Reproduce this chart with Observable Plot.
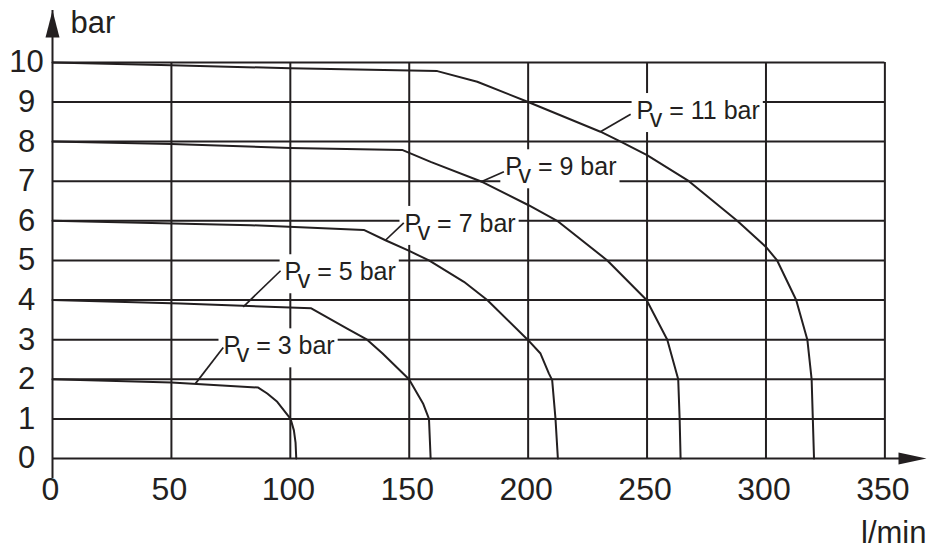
<!DOCTYPE html>
<html><head><meta charset="utf-8">
<script src="https://cdn.jsdelivr.net/npm/d3@7"></script>
<script src="https://cdn.jsdelivr.net/npm/@observablehq/plot@0.6"></script>
<style>html,body{margin:0;padding:0;background:#fff;overflow:hidden}</style>
</head><body><div id="chart"></div>
<script>
// ---- data ----
const xTicks = [0, 50, 100, 150, 200, 250, 300, 350];
const yTicks = [0, 1, 2, 3, 4, 5, 6, 7, 8, 9, 10];
const xAxisEnd = 367.5;   // arrow tip of the flow axis
const yAxisEnd = 11.31;   // arrow tip of the pressure axis
const xUnit = "l/min";
const yUnit = "bar";

const seriesNames = ["3", "5", "7", "9", "11"];
const flow3  = [0, 50, 86.5, 90.3, 94.5, 100.1, 101.5, 102.2, 102.5];
const pres3  = [2, 1.92, 1.79, 1.64, 1.43, 1.0, 0.71, 0.4, 0];
const flow5  = [0, 53.8, 108.8, 123.9, 132.3, 138.8, 149.9, 155.8, 158.3, 159];
const pres5  = [4, 3.91, 3.79, 3.28, 3.0, 2.65, 2.0, 1.39, 1.0, 0];
const flow7  = [0, 83.3, 130.9, 140, 150, 158.3, 173, 182.8, 199.8, 205.2, 208.7, 210.1, 211.5, 212.5];
const pres7  = [6, 5.89, 5.77, 5.51, 5.24, 5.0, 4.46, 4.0, 3.0, 2.65, 2.15, 1.98, 1.0, 0];
const flow9  = [0, 50, 100, 147, 159, 180, 200, 212.2, 233.3, 249.8, 258.5, 263.1, 263.7, 264.1];
const pres9  = [8, 7.94, 7.84, 7.79, 7.49, 7.0, 6.4, 6.0, 5.0, 4.0, 3.0, 2.0, 1.0, 0];
const flow11 = [0, 50, 100, 161.8, 178.6, 200, 230.4, 238.9, 250, 267.6, 287.9, 300, 304.7, 312.7, 317.4, 319.2, 319.7, 320.2];
const pres11 = [10, 9.93, 9.85, 9.78, 9.51, 9.0, 8.25, 8.0, 7.66, 7.0, 6.0, 5.34, 5.0, 4.0, 3.0, 2.0, 1.0, 0];

// label anchors (start of "P", baseline) and leader lines
const labelX   = [71.9, 97.6, 148.0, 190.4, 245.6];
const labelY   = [2.63, 4.50, 5.72, 7.15, 8.57];
const leaderX1 = [71.8, 95.9, 147.7, 189.8, 243.1];
const leaderY1 = [2.80, 4.74, 5.95, 7.24, 8.69];
const leaderX2 = [60.1, 80.2, 140.0, 180.0, 230.4];
const leaderY2 = [1.89, 3.83, 5.51, 6.98, 8.25];

// ---- build tables ----
const flows = [flow3, flow5, flow7, flow9, flow11];
const pres = [pres3, pres5, pres7, pres9, pres11];
const rows = [];
seriesNames.forEach((s, i) => flows[i].forEach((q, j) => rows.push({series: s, q, p: pres[i][j]})));
const labels = seriesNames.map((s, i) => ({name: s, x: labelX[i], y: labelY[i],
  x1: leaderX1[i], y1: leaderY1[i], x2: leaderX2[i], y2: leaderY2[i]}));

const ink = "#231f20";
const font = "'Liberation Sans', Arial, Helvetica, sans-serif";
const arrowRight = {draw(c) { c.moveTo(0, 0); c.lineTo(-28, -6); c.lineTo(-28, 6); c.closePath(); }};
const arrowUp = {draw(c) { c.moveTo(0, 0); c.lineTo(-7, 27); c.lineTo(7, 27); c.closePath(); }};
const xLast = xTicks[xTicks.length - 1];
const yLast = yTicks[yTicks.length - 1];

const plot = Plot.plot({
  width: 928, height: 547,
  marginLeft: 52, marginRight: 2, marginTop: 10, marginBottom: 89,
  x: {domain: [0, xAxisEnd]},
  y: {domain: [0, yAxisEnd]},
  style: {fontFamily: font, background: "#fff", color: ink},
  marks: [
    Plot.ruleY(yTicks.filter(d => d > 0), {x1: 0, x2: xLast, stroke: ink, strokeWidth: 2}),
    Plot.ruleX(xTicks.filter(d => d > 0), {y1: 0, y2: yLast, stroke: ink, strokeWidth: 2}),
    Plot.ruleY([0], {x1: 0, x2: xAxisEnd, insetRight: 20, stroke: ink, strokeWidth: 2}),
    Plot.ruleX([0], {y1: 0, y2: yAxisEnd, insetTop: 20, stroke: ink, strokeWidth: 2}),
    Plot.dot([{x: xAxisEnd, y: 0}], {x: "x", y: "y", symbol: arrowRight, fill: ink}),
    Plot.dot([{x: 0, y: yAxisEnd}], {x: "x", y: "y", symbol: arrowUp, fill: ink}),
    Plot.line(rows, {x: "q", y: "p", z: "series", stroke: ink, strokeWidth: 2, strokeLinejoin: "round"}),
    Plot.link(labels, {x1: "x1", y1: "y1", x2: "x2", y2: "y2", stroke: ink, strokeWidth: 1.7}),
    Plot.text(labels, {x: "x", y: "y", text: d => "Pv = " + d.name + " bar", textAnchor: "start", lineAnchor: "bottom", fontSize: 25, fill: ink}),
    Plot.axisX(xTicks, {tickSize: 0, tickPadding: 19, fontSize: 32, dx: -2, label: null, fill: ink}),
    Plot.axisY(yTicks, {tickSize: 0, tickPadding: 26, textAnchor: "middle", fontSize: 31, label: null, fill: ink}),
    Plot.text([yUnit], {frameAnchor: "top-left", text: d => d, dx: 18, textAnchor: "start", lineAnchor: "top", fontSize: 31, fill: ink}),
    Plot.text([xUnit], {frameAnchor: "bottom-right", text: d => d, dx: 0, dy: 84, textAnchor: "end", lineAnchor: "bottom", fontSize: 31, fill: ink})
  ]
});
document.getElementById("chart").append(plot);

// ---- post-process: subscript "v" and white boxes behind the curve labels ----
const svg = plot;
const NS = "http://www.w3.org/2000/svg";
const groups = Array.from(svg.children).filter(n => n.tagName.toLowerCase() === "g");
const ruleGroups = groups.filter(g => g.getAttribute("aria-label") === "rule");
const textGroups = groups.filter(g => g.getAttribute("aria-label") === "text");
const labelGroup = textGroups[0];
const labelTexts = labelGroup ? Array.from(labelGroup.querySelectorAll("text")) : [];
labelTexts.forEach(t => {
  const s = t.textContent;            // "Pv = N bar"
  const rest = s.slice(2);
  t.textContent = "P";
  const sub = document.createElementNS(NS, "tspan");
  sub.setAttribute("dx", "-3.5");
  sub.setAttribute("dy", "8");
  sub.textContent = "v";
  const tail = document.createElementNS(NS, "tspan");
  tail.setAttribute("dy", "-8");
  tail.textContent = rest;
  t.appendChild(sub);
  t.appendChild(tail);
});
const sb = svg.getBoundingClientRect();
const maskG = document.createElementNS(NS, "g");
maskG.setAttribute("aria-label", "label-masks");
labelTexts.forEach(t => {
  const r = t.getBoundingClientRect();
  const rect = document.createElementNS(NS, "rect");
  rect.setAttribute("x", r.left - sb.left - 5);
  rect.setAttribute("y", r.top - sb.top - 3);
  rect.setAttribute("width", r.width + 8);
  rect.setAttribute("height", r.height + 3);
  rect.setAttribute("fill", "#fff");
  maskG.appendChild(rect);
});
if (ruleGroups[1]) ruleGroups[1].after(maskG);
</script>
</body></html>
